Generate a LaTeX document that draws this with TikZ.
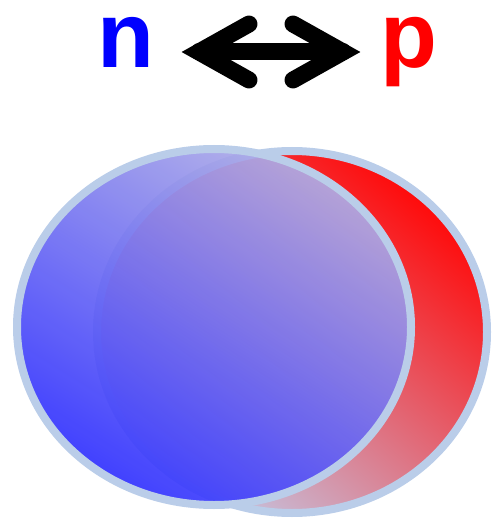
\documentclass[tikz,border=0pt]{standalone}
\usepackage{fontspec}
\setmainfont{Liberation Sans}
\usepackage{tikz}
\definecolor{nblue}{HTML}{0000FF}
\definecolor{pred}{HTML}{FF0000}
\definecolor{rimblue}{HTML}{BACDE9}
\definecolor{deepblue}{HTML}{3030FF}
\definecolor{midblue}{HTML}{6464F0}
\definecolor{paleblue}{HTML}{B0AEE6}
\definecolor{hotred}{HTML}{FF0A0A}
\definecolor{palelav}{HTML}{C4C8E4}

\begin{document}
\begin{tikzpicture}[x=0.02cm, y=-0.02cm,
  letter/.style={font=\bfseries\fontsize{53}{56}\selectfont, inner sep=0pt, anchor=base},
  swaparrow/.style={line width=0.34cm, line cap=round, line join=miter},
  rim/.style={draw=rimblue, line width=0.16cm}]
  \useasboundingbox (0,0) rectangle (493,520);
  % the two nucleons
  \shade[rim, top color=hotred, bottom color=palelav, shading angle=-40] (292,332) ellipse [x radius=195, y radius=181];
  \shade[rim, top color=paleblue, middle color=midblue, bottom color=deepblue, shading angle=-32, fill opacity=0.92] (214,327) ellipse [x radius=197, y radius=178];
  % labels and exchange arrow
  \node[letter, text=nblue] (n) at (125.5,68) {n};
  \node[letter, text=pred] (p) at (409,68) {p};
  \coordinate (tl) at (199,52);
  \coordinate (tr) at (343,52);
  \draw[swaparrow] (tl) -- (tr);
  \draw[swaparrow] (tl) ++(50,-28) -- (tl) -- ++(50,28);
  \draw[swaparrow] (tr) ++(-50,-28) -- (tr) -- ++(-50,28);
\end{tikzpicture}
\end{document}
